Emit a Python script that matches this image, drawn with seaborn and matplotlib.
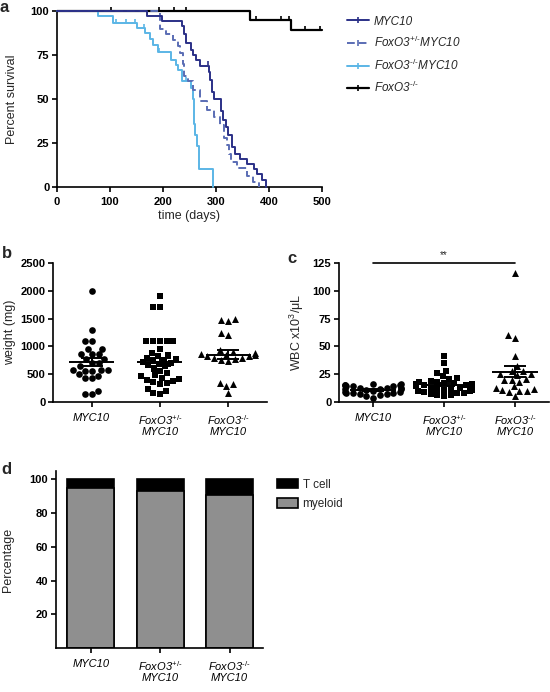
import numpy as np
import pandas as pd
import matplotlib
matplotlib.use('Agg')
import matplotlib.pyplot as plt
import seaborn as sns
from matplotlib.lines import Line2D
from matplotlib.patches import Patch

# ---------------------------------------------------------------
# Data
# ---------------------------------------------------------------
groups = ['MYC10', 'FoxO3+/-', 'FoxO3-/-']
group_ticks = ['MYC10', 'FoxO3$^{\\text{+/-}}$\nMYC10', 'FoxO3$^{\\text{-/-}}$\nMYC10']

# (a) Kaplan-Meier curves (day, percent survival)
myc_t = [0, 170, 199, 236, 239, 243, 253, 257, 262, 269, 286, 289, 292, 296, 309, 314, 319, 322, 330, 336, 345, 358, 371, 378, 387, 394]
myc_s = [100, 97.3, 94.3, 91.5, 87, 81.6, 78, 75, 72, 69, 65.5, 60.7, 54, 50, 43, 38, 34, 29.4, 22.8, 19, 16, 13.3, 10.4, 7.6, 3.8, 0]
myc_cens = [285]

het_t = [0, 195, 205, 218, 228, 233, 237, 240, 247, 257, 270, 283, 297, 308, 316, 321, 325, 329, 340, 358, 370, 381]
het_s = [100, 90, 87, 83.5, 80, 76, 70, 63, 60, 55, 49, 44, 40, 35, 28, 24, 19, 14, 11, 6, 3, 0]
het_cens = []

komyc_t = [0, 78, 106, 150, 166, 175, 182, 191, 216, 225, 229, 235, 252, 257, 258, 259, 260, 264, 268, 294]
komyc_s = [100, 97.4, 93.4, 90.2, 87.3, 83.9, 80.7, 76.6, 72.2, 69.4, 66.5, 60, 56.1, 50, 43, 36, 29.5, 23.3, 10, 0]
komyc_cens = [112, 131, 147, 165, 192, 243, 253]

ko_t = [0, 365, 441, 500]
ko_s = [100, 94.9, 89, 89]
ko_cens = [101, 193, 221, 243, 376, 422, 438, 467, 497]

surv_labels = ['MYC10', 'FoxO3$^{\\text{+/-}}$MYC10', 'FoxO3$^{\\text{-/-}}$MYC10', 'FoxO3$^{\\text{-/-}}$']
surv_colors = ['#2B3087', '#5A6DB4', '#5BB6E6', '#000000']

# (b) tumour weight (mg)
myc_w = [2000, 1300, 1100, 1100, 960, 960, 860, 860, 860, 780, 780, 700, 700, 650,
         580, 580, 570, 560, 560, 500, 460, 440, 430, 200, 150, 150]
het_w = [1900, 1700, 1700, 1100, 1100, 1100, 1100, 1100, 960, 880, 850, 820, 800, 780,
         760, 740, 720, 700, 680, 660, 640, 600, 560, 520, 480, 460, 440, 420, 400, 380,
         360, 340, 330, 230, 200, 160, 150]
ko_w = [1500, 1450, 1480, 1250, 1200, 930, 900, 880, 860, 850, 840, 830, 820, 800,
        790, 780, 760, 730, 350, 330, 280, 160]

# (c) WBC x10^3/uL
myc_wbc = [16, 16, 15, 15, 15, 14, 14, 14, 13, 13, 13, 12, 12, 12, 11, 10, 9, 9, 8, 8, 8, 7, 7, 6, 5, 4]
het_wbc = [41, 35, 28, 26, 23, 22, 21, 19, 18, 18, 17, 17, 16, 16, 16, 15, 15, 15, 14, 14,
           14, 13, 13, 12, 12, 11, 11, 10, 10, 9, 8, 8, 7, 6, 6, 5]
ko_wbc = [116, 60, 58, 41, 32, 28, 28, 25, 25, 24, 21, 20, 20, 18, 14, 13, 12, 11, 10, 10, 9, 5]

# (d) percentage
tcell_pct = [5, 7, 9.5]
myeloid_pct = [95, 93, 90.5]

# ---------------------------------------------------------------
sns.set_style('ticks')
plt.rcParams['font.family'] = ['Liberation Sans', 'DejaVu Sans']
plt.rcParams['mathtext.fontset'] = 'custom'
plt.rcParams['mathtext.rm'] = 'Liberation Sans'
plt.rcParams['mathtext.it'] = 'Liberation Sans:italic'
plt.rcParams['mathtext.default'] = 'it'
plt.rcParams['axes.linewidth'] = 1.2
plt.rcParams['xtick.major.width'] = 1.2
plt.rcParams['ytick.major.width'] = 1.2
plt.rcParams['xtick.major.size'] = 3.5
plt.rcParams['ytick.major.size'] = 3.5
plt.rcParams['xtick.major.pad'] = 4.5
plt.rcParams['ytick.major.pad'] = 2

W, H = 550, 692
fig = plt.figure(figsize=(W / 100, H / 100), dpi=100)


def add_ax(l, t, r, b):
    return fig.add_axes([l / W, 1 - b / H, (r - l) / W, (b - t) / H])


def style_ax(ax):
    sns.despine(ax=ax)
    for s in ['left', 'bottom']:
        ax.spines[s].set_color('black')
    ax.tick_params(colors='black', labelsize=8)
    for lab in ax.get_yticklabels():
        lab.set_fontweight('bold')


def cat_ticks(ax):
    ax.set_xticks(range(len(groups)))
    ax.set_xticklabels(group_ticks, fontstyle='italic', fontsize=10, linespacing=1.05)
    ax.set_xlabel('')


# ---------------- (a) survival ----------------
ax_a = add_ax(57, 11, 322, 187)
curves = [(myc_t, myc_s, myc_cens, '-', 6), (het_t, het_s, het_cens, '--', 5),
          (komyc_t, komyc_s, komyc_cens, '-', 4), (ko_t, ko_s, ko_cens, '-', 3)]
handles = []
for (t, s, cens, ls, z), col, lab in zip(curves, surv_colors, surv_labels):
    lw = 1.6 if col == '#000000' else 1.4
    line, = ax_a.step(t, s, where='post', color=col, lw=lw, ls=ls, clip_on=False, zorder=z)
    if ls == '--':
        line.set_dashes((4, 2))
    if cens:
        idx = np.searchsorted(t, cens, side='right') - 1
        ax_a.plot(cens, np.array(s)[idx] + 1.2, ls='none', marker='|', ms=3.5, mew=1.2,
                  color=col, clip_on=False, zorder=z)
    h = Line2D([0], [0], color=col, lw=lw, ls=ls, marker='|', ms=4, mew=1.2)
    if ls == '--':
        h.set_dashes((4, 2))
    handles.append(h)

ax_a.set_xlim(0, 500)
ax_a.set_ylim(0, 100)
ax_a.set_xticks(range(0, 501, 100))
ax_a.set_yticks([0, 25, 50, 75, 100])
ax_a.set_xlabel('time (days)', fontsize=9, labelpad=2)
ax_a.set_ylabel('Percent survival', fontsize=9)
style_ax(ax_a)
for lab in ax_a.get_xticklabels():
    lab.set_fontweight('bold')
ax_a.tick_params(axis='x', pad=3.5)
ax_a.yaxis.set_label_coords(-39 / 265, 0.5)
fig.legend(handles, surv_labels, loc='upper left', bbox_to_anchor=(336 / W, 1 - 5 / H),
           frameon=False, prop={'style': 'italic', 'size': 8.5}, handlelength=1.9,
           labelspacing=0.62, handletextpad=0.4)

# ---------------- (b) weight ----------------
ax_b = add_ax(53, 263, 267, 402)
df_b = pd.DataFrame({'group': ['MYC10'] * len(myc_w) + ['FoxO3+/-'] * len(het_w) + ['FoxO3-/-'] * len(ko_w),
                     'weight': myc_w + het_w + ko_w})

# ---------------- (c) WBC ----------------
ax_c = add_ax(339, 263, 549, 402)
df_c = pd.DataFrame({'group': ['MYC10'] * len(myc_wbc) + ['FoxO3+/-'] * len(het_wbc) + ['FoxO3-/-'] * len(ko_wbc),
                     'wbc': myc_wbc + het_wbc + ko_wbc})

markers = {'MYC10': ('o', 4.8), 'FoxO3+/-': ('s', 4.6), 'FoxO3-/-': ('^', 5.0)}
for ax, df, col in [(ax_b, df_b, 'weight'), (ax_c, df_c, 'wbc')]:
    for g in groups:
        m, sz = markers[g]
        sns.swarmplot(data=df[df['group'] == g], x='group', y=col, order=groups, marker=m,
                      size=sz, color='black', linewidth=0, ax=ax, warn_thresh=1)
    st = df.groupby('group')[col].agg(['mean', 'sem']).reindex(groups)
    for i, g in enumerate(groups):
        ax.hlines(st.loc[g, 'mean'], i - 0.33, i + 0.33, color='black', lw=1.4, zorder=5)
        ax.errorbar(i, st.loc[g, 'mean'], yerr=st.loc[g, 'sem'], fmt='none', ecolor='black',
                    elinewidth=1.4, capsize=8, capthick=1.4, zorder=5)
    cat_ticks(ax)

ax_b.set_ylim(0, 2500)
ax_b.set_yticks(range(0, 2501, 500))
ax_b.set_xlim(-0.565, 2.57)
ax_b.set_ylabel('weight (mg)', fontsize=9)
style_ax(ax_b)
ax_b.yaxis.set_label_coords(-37 / 214, 0.5)

ax_c.set_ylim(0, 125)
ax_c.set_yticks(range(0, 126, 25))
ax_c.set_xlim(-0.48, 2.48)
ax_c.set_ylabel('WBC x10$^{\\mathrm{3}}$/\u03bcL', fontsize=9)
style_ax(ax_c)
ax_c.yaxis.set_label_coords(-33 / 210, 0.5)
ax_c.plot([0, 2], [125, 125], color='black', lw=1.2, clip_on=False)
ax_c.text(1, 128, '**', ha='center', va='bottom', fontsize=7, clip_on=False)

# ---------------- (d) stacked bars ----------------
ax_d = add_ax(56, 471, 263, 648)
df_d = pd.DataFrame({'group': groups, 'total': np.array(tcell_pct) + np.array(myeloid_pct),
                     'myeloid': myeloid_pct})
sns.barplot(data=df_d, x='group', y='total', order=groups, color='black', edgecolor='black',
            linewidth=1.2, width=0.68, saturation=1, ax=ax_d)
sns.barplot(data=df_d, x='group', y='myeloid', order=groups, color='#8F8F8F', edgecolor='black',
            linewidth=1.2, width=0.68, saturation=1, ax=ax_d)
cat_ticks(ax_d)
ax_d.set_ylim(0, 105)
ax_d.set_yticks([20, 40, 60, 80, 100])
ax_d.set_xlim(-0.5, 2.48)
ax_d.set_ylabel('Percentage', fontsize=9)
style_ax(ax_d)
ax_d.yaxis.set_label_coords(-42 / 207, 0.5)
fig.legend([Patch(facecolor='black', edgecolor='black', lw=1.2),
            Patch(facecolor='#8F8F8F', edgecolor='black', lw=1.2)],
           ['T cell', 'myeloid'], loc='upper left', bbox_to_anchor=(266 / W, 1 - 468 / H),
           frameon=False, fontsize=8.5, handlelength=1.8, handleheight=0.9,
           labelspacing=0.65, handletextpad=0.4)

# panel letters
for letter, x, y in [('a', 0, 0), ('b', 2, 246), ('c', 287, 251), ('d', 1, 462)]:
    fig.text(x / W, 1 - y / H, letter, fontsize=12, fontweight='bold', va='top', ha='left')

fig.savefig('out.png', dpi=100)
